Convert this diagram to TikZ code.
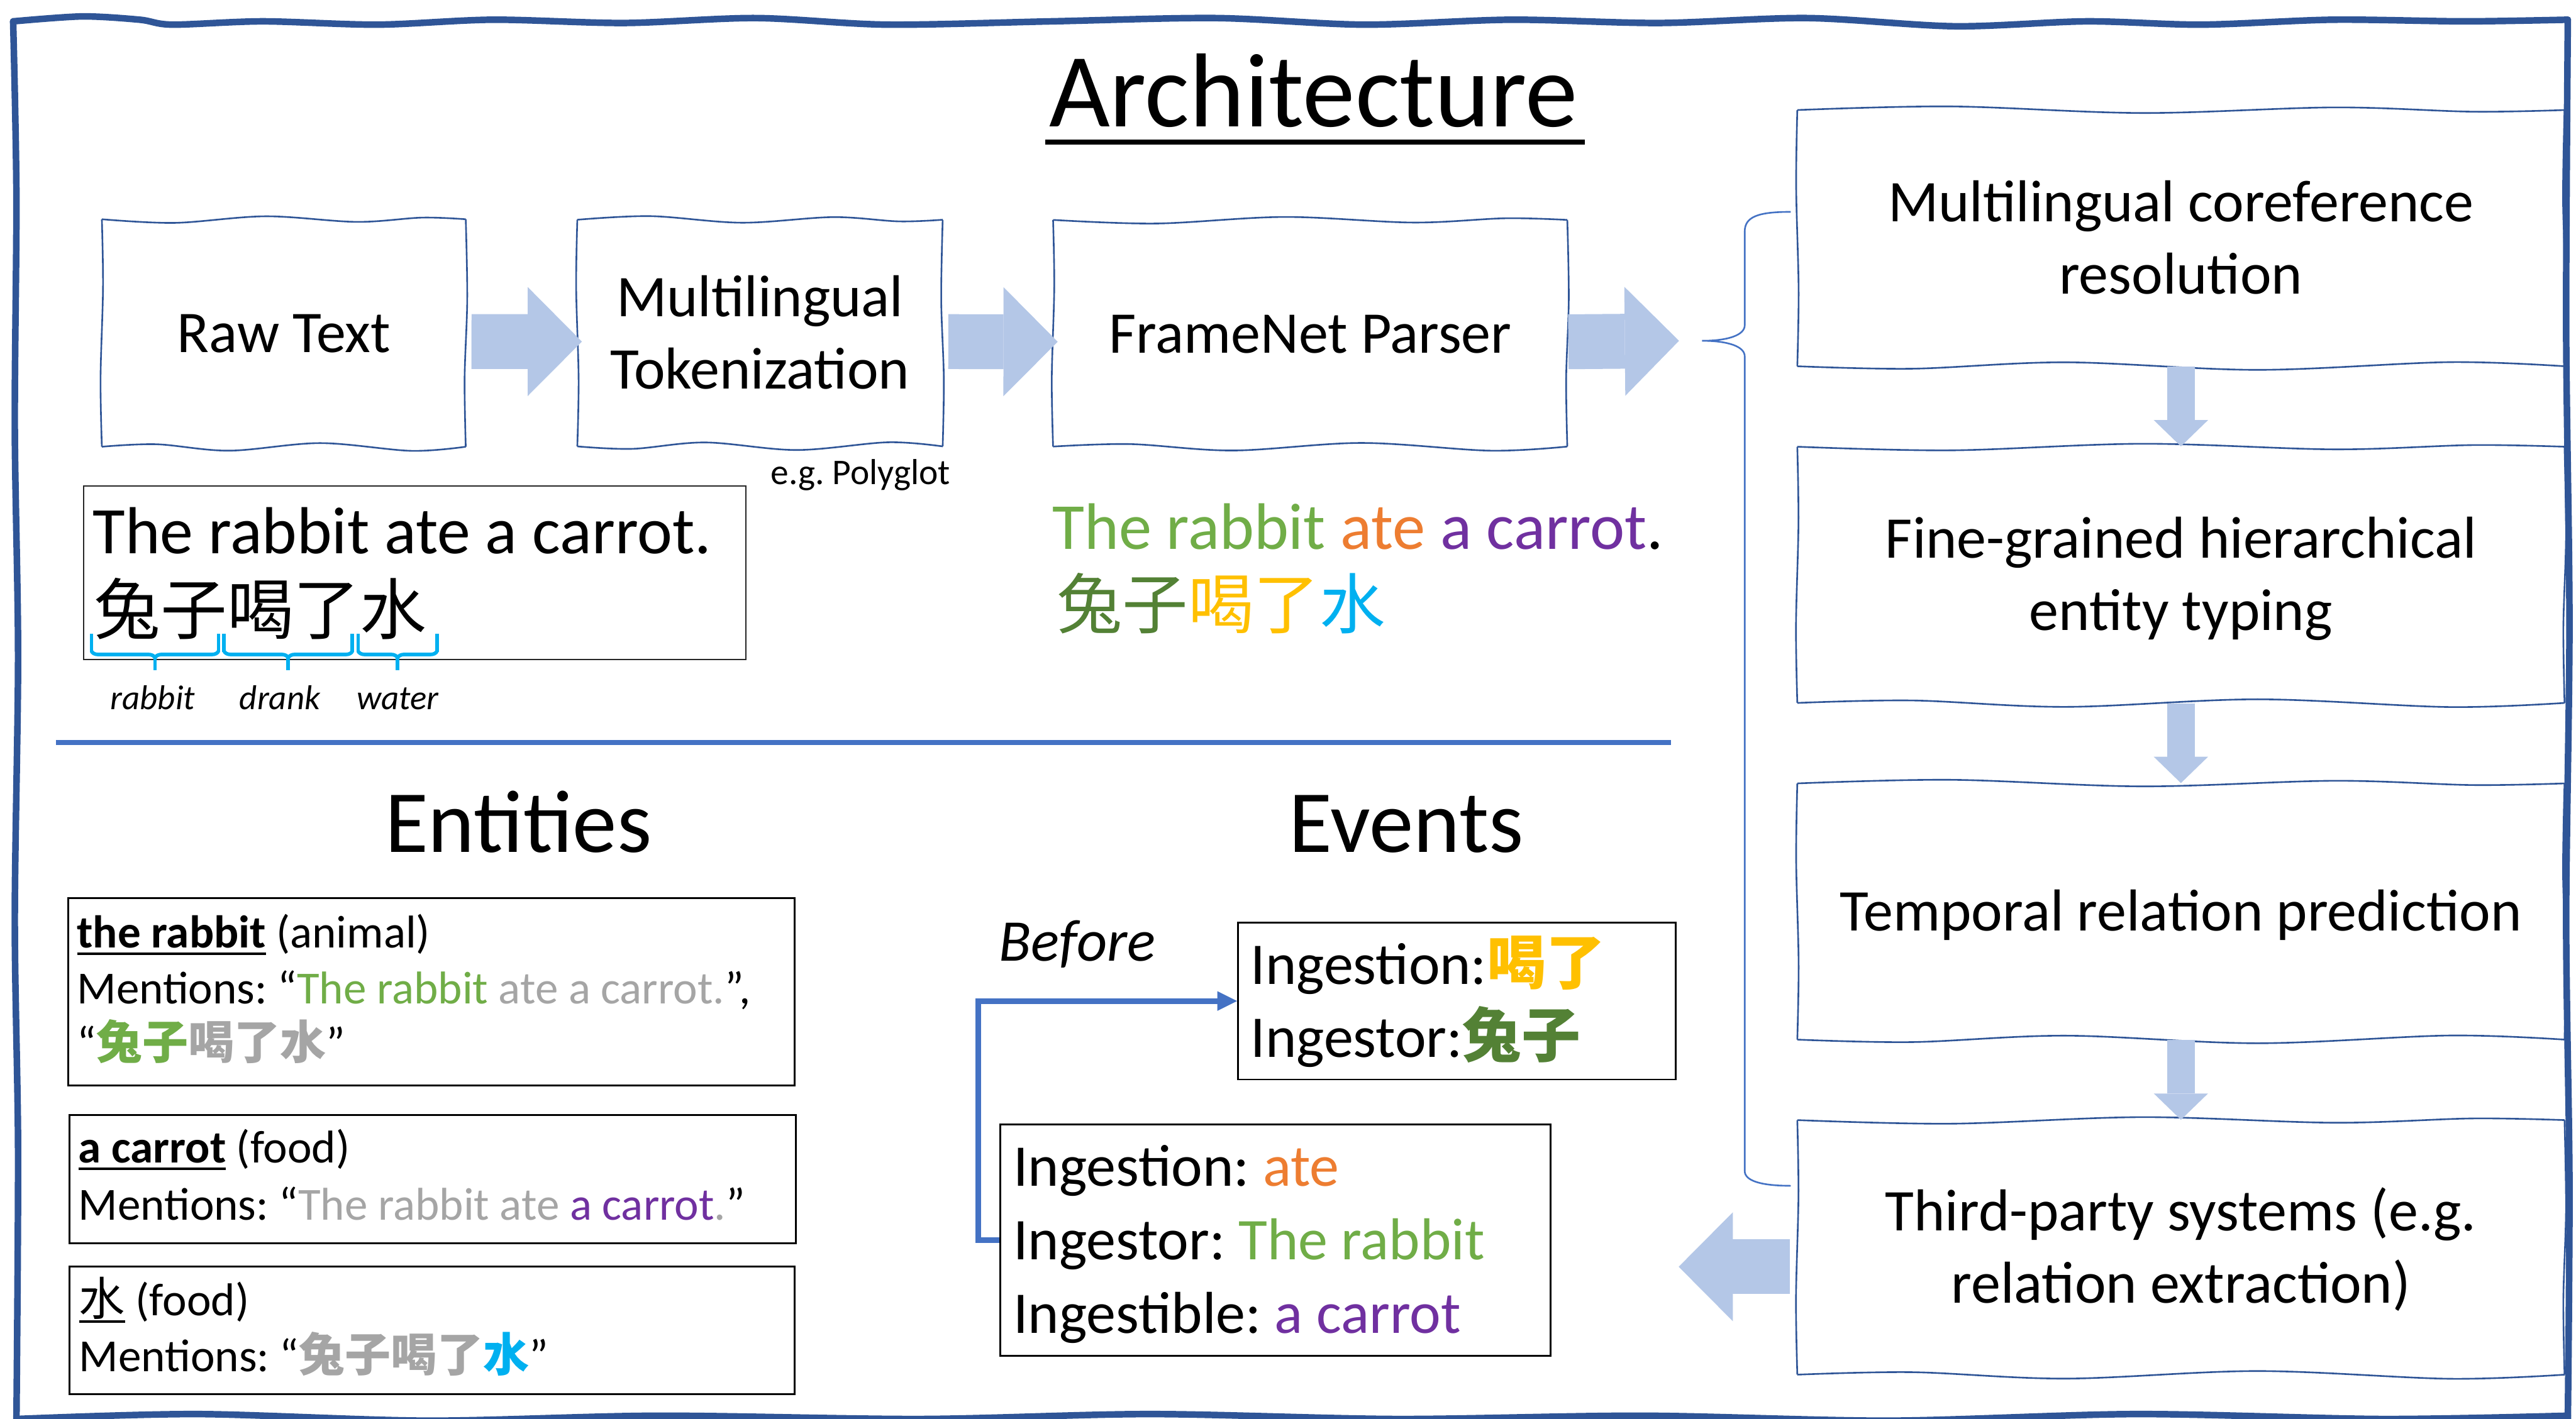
\documentclass[tikz,border=0pt]{standalone}
\usepackage{fontspec}
\setmainfont{Carlito}
\newfontfamily\cjk{Noto Sans CJK SC}
\usetikzlibrary{arrows.meta,decorations.pathreplacing,calc}
\frenchspacing

\definecolor{frameblue}{HTML}{2F5597}
\definecolor{linkblue}{HTML}{4472C4}
\definecolor{arrowfill}{HTML}{B4C7E7}
\definecolor{cgreen}{HTML}{70AD47}
\definecolor{cdgreen}{HTML}{538135}
\definecolor{corange}{HTML}{ED7D31}
\definecolor{cpurple}{HTML}{7030A0}
\definecolor{cgold}{HTML}{FFC000}
\definecolor{ccyan}{HTML}{00B0F0}
\definecolor{cgray}{HTML}{A5A5A5}

\newcommand\bxs{\rule[-0.25em]{0pt}{1.16em}}
\newcommand\myul[1]{\setbox0\hbox{#1}\rlap{\rule[-4.5pt]{\wd0}{1.5pt}}\box0\relax}

\tikzset{
  sketch/.style={draw=frameblue, line width=1pt},
  stext/.style={inner sep=0pt, align=center, font=\fontsize{36}{44}\selectfont},
  blockarr/.style={draw=arrowfill, line width=33.4pt, -{Triangle[length=33pt,width=66.4pt,line width=0pt]}},
  downarr/.style={draw=arrowfill, line width=17pt, -{Triangle[length=16pt,width=33pt,line width=0pt]}},
  ebox/.style={draw=black, line width=1.1pt, inner sep=0pt},
  etext/.style={inner sep=0pt, anchor=base west, font=\fontsize{28}{34}\selectfont},
  vtext/.style={inner sep=0pt, anchor=base west, font=\fontsize{36}{44}\selectfont},
  bigtext/.style={inner sep=0pt, anchor=base west, font=\fontsize{40.5}{48}\selectfont},
  lbl/.style={inner sep=0pt, anchor=base, font=\fontsize{21}{25}\selectfont\itshape},
  heading/.style={inner sep=0pt, anchor=base, font=\fontsize{54}{64}\selectfont},
  cbrace/.style={draw=ccyan, line width=2.2pt},
  conn/.style={draw=linkblue, line width=3.5pt, -{Triangle[length=12pt,width=12pt,line width=0pt]}},
}

% sketchy box: name, x1, y1, x2, y2, text, phase (+1/-1)
\newcommand\skbox[7]{%
  \node[stext, minimum width={#4-#2}, minimum height={#5-#3}] (#1) at ({(#2+#4)/2},{(#3+#5)/2}) {#6};
  \draw[sketch] plot[smooth,tension=0.55] coordinates {(#2,#3) ({#2+0.2*(#4-#2)},{#3+2.2*(#7)}) ({#2+0.45*(#4-#2)},{#3-1.8*(#7)}) ({#2+0.7*(#4-#2)},{#3+1.6*(#7)}) ({#2+0.88*(#4-#2)},{#3-1.0*(#7)}) (#4,#3)};
  \draw[sketch] plot[smooth,tension=0.55] coordinates {(#4,#3) ({#4+0.9*(#7)},{#3+0.35*(#5-#3)}) ({#4-0.7*(#7)},{#3+0.7*(#5-#3)}) (#4,#5)};
  \draw[sketch] plot[smooth,tension=0.55] coordinates {(#4,#5) ({#4-0.15*(#4-#2)},{#5+2.5*(#7)}) ({#4-0.4*(#4-#2)},{#5-2.2*(#7)}) ({#4-0.65*(#4-#2)},{#5+2.4*(#7)}) ({#4-0.85*(#4-#2)},{#5-1.5*(#7)}) (#2,#5)};
  \draw[sketch] plot[smooth,tension=0.55] coordinates {(#2,#5) ({#2-0.8*(#7)},{#5-0.3*(#5-#3)}) ({#2+0.7*(#7)},{#5-0.7*(#5-#3)}) (#2,#3)};
}

\begin{document}
\begin{tikzpicture}[x=1pt,y=-1pt]
\useasboundingbox (0,0) rectangle (1568,864);
\fill[white] (0,0) rectangle (1568,864);

% outer sketchy frame
\begin{scope}[draw=frameblue, line width=4pt, line cap=round]
\draw plot[smooth,tension=0.5] coordinates {(8,13) (50,10) (85,12) (105,15) (160,13) (230,15) (300,12) (380,14) (460,11) (540,15) (640,13) (740,11) (830,15) (920,12) (1010,14) (1100,11) (1190,16) (1270,13) (1340,15) (1420,12) (1500,13) (1563,12)};
\draw plot[smooth,tension=0.5] coordinates {(8,13) (10,120) (9,260) (11,400) (9,560) (11,700) (10,866)};
\draw plot[smooth,tension=0.5] coordinates {(1563,12) (1562,200) (1564,380) (1562,560) (1564,720) (1563,866)};
\draw plot[smooth,tension=0.5] coordinates {(10,864) (120,861) (260,865) (400,862) (560,864) (700,861) (850,864) (1000,862) (1150,865) (1300,861) (1450,864) (1563,862)};
\end{scope}

% title
\node[inner sep=0pt, anchor=base, font=\fontsize{64}{72}\selectfont] (title) at (799.5,77) {Architecture};
\draw[line width=3pt] ([xshift=-2pt,yshift=-9.5pt]title.base west) -- ([xshift=4pt,yshift=-9.5pt]title.base east);

% pipeline boxes
\skbox{raw}{62}{133.5}{283.5}{272}{\bxs Raw Text}{1}
\skbox{tok}{351.4}{133.8}{573.8}{271.8}{\bxs Multilingual\\\bxs Tokenization}{-1}
\skbox{fn}{641}{133.9}{954}{271.9}{\bxs FrameNet Parser}{1}

\skbox{c1}{1094}{67}{1561}{223}{\bxs Multilingual coreference\\\bxs resolution}{-1}
\skbox{c2}{1094}{272}{1561}{428}{\bxs Fine-grained hierarchical\\\bxs entity typing}{1}
\skbox{c3}{1094}{477}{1561}{633}{\bxs Temporal relation prediction}{-1}
\skbox{c4}{1094}{682}{1561}{837}{\bxs Third-party systems (e.g.\\\bxs relation extraction)}{1}

% block arrows
\coordinate (bracetip) at (1036,207.5);
\draw[blockarr] ([xshift=3.3pt,yshift=-5.2pt]raw.east) -- ([xshift=3pt,yshift=-5.2pt]tok.west);
\draw[blockarr] ([xshift=3.2pt,yshift=-5.2pt]tok.east) -- ([xshift=3pt,yshift=-5.2pt]fn.west);
\draw[blockarr] ([xshift=0.4pt,yshift=-5.2pt]fn.east) -- ([xshift=-14pt]bracetip);
\draw[downarr] (c1.south) -- (c2.north);
\draw[downarr] (c2.south) -- (c3.north);
\draw[downarr] (c3.south) -- (c4.north);
\draw[blockarr] ([xshift=-4.5pt,yshift=-11.8pt]c4.west) -- ++(-67.5,0);

% big brace
\draw[linkblue, line width=1pt] (1090,129) .. controls (1070,129) and (1062,132) .. (1062,141) -- (1062,198) .. controls (1062,204) and (1052,207.5) .. (bracetip) .. controls (1052,207.5) and (1062,211) .. (1062,217) -- (1062,713) .. controls (1062,719) and (1072,722) .. (1090,722);

% note
\node[inner sep=0pt, anchor=base west, font=\fontsize{22}{26}\selectfont] (poly) at (469,295) {e.g. Polyglot};

% example text box
\node[draw=black!85, line width=0.8pt, inner sep=0pt, minimum width=403, minimum height=105.6] (ex) at (252.5,348.8) {};
\node[bigtext] (exen) at (56.3,337) {The rabbit ate a carrot.};
\node[bigtext] (exzh) at (57,386) {\cjk 兔子喝了水};

% cyan braces
\foreach \xa/\xb/\nm in {55.7/133/b1, 136.4/214.5/b2, 218/266/b3}{
  \draw[cbrace] (\xa,386) -- (\xa,397);
  \draw[cbrace] (\xb,386) -- (\xb,397);
  \draw[cbrace, decorate, decoration={brace, mirror, amplitude=4pt}] (\xa,396.5) -- (\xb,396.5);
  \draw[cbrace] ({(\xa+\xb)/2},400) -- ({(\xa+\xb)/2},408);
}
\node[lbl] (lrabbit) at (93,432) {rabbit};
\node[lbl] (ldrank) at (170.4,432) {drank};
\node[lbl] (lwater) at (242,432) {water};

% coloured parse
\node[inner sep=0pt, anchor=base west, font=\fontsize{40}{48}\selectfont] (pen) at (640.4,334.3) {\textcolor{cgreen}{The rabbit} \textcolor{corange}{ate} \textcolor{cpurple}{a carrot}.};
\node[inner sep=0pt, anchor=base west, font=\fontsize{40}{48}\selectfont] (pzh) at (643,382.5) {\cjk\textcolor{cdgreen}{兔子}\textcolor{cgold}{喝了}\textcolor{ccyan}{水}};

% separator
\draw[linkblue, line width=3pt] (34,452) -- (1017,452);

% headings
\node[heading] (enth) at (315.5,519) {Entities};
\node[heading] (evth) at (856,519) {Events};

% entity boxes
\node[ebox, minimum width=442.3, minimum height=114] (ent1) at (262.65,604) {};
\node[ebox, minimum width=442, minimum height=78] (ent2) at (263.3,718) {};
\node[ebox, minimum width=441.3, minimum height=78] (ent3) at (263.1,810) {};

\node[etext] (e1a) at (46.7,577) {{\bfseries\myul{the rabbit}} (animal)};
\node[etext] (e1b) at (46.7,611) {Mentions: “\textcolor{cgreen}{The rabbit} \textcolor{cgray}{ate a carrot.}”,};
\node[etext] (e1c) at (46.7,645) {“{\cjk\bfseries\textcolor{cgreen}{兔子}\textcolor{cgray}{喝了水}}”};
\node[etext] (e2a) at (47.5,708) {{\bfseries\myul{a carrot}} (food)};
\node[etext] (e2b) at (47.5,743) {Mentions: “\textcolor{cgray}{The rabbit ate} \textcolor{cpurple}{a carrot}\textcolor{cgray}{.}”};
\node[etext] (e3a) at (48,801) {\myul{\cjk 水} (food)};
\node[etext] (e3b) at (48,835) {Mentions: “{\cjk\bfseries\textcolor{cgray}{兔子喝了}\textcolor{ccyan}{水}}”};

% events
\node[inner sep=0pt, anchor=base west, font=\fontsize{36}{44}\selectfont\itshape] (before) at (608,585) {Before};
\node[ebox, minimum width=266.5, minimum height=95.6] (upev) at (886.75,609.5) {};
\node[ebox, minimum width=335.1, minimum height=140.7] (lowev) at (776.25,755.15) {};
\node[vtext] (u1) at (761,599.4) {Ingestion:{\cjk\bfseries\textcolor{cgold}{喝了}}};
\node[vtext] (u2) at (761,643.7) {Ingestor:{\cjk\bfseries\textcolor{cdgreen}{兔子}}};
\node[vtext] (l1) at (616.6,722.3) {Ingestion: \textcolor{corange}{ate}};
\node[vtext] (l2) at (616.6,767) {Ingestor: \textcolor{cgreen}{The rabbit}};
\node[vtext] (l3) at (616.6,811.7) {Ingestible: \textcolor{cpurple}{a carrot}};

\draw[conn] (lowev.west) -- ++(-12.7,0) |- (upev.west);

\end{tikzpicture}
\end{document}
